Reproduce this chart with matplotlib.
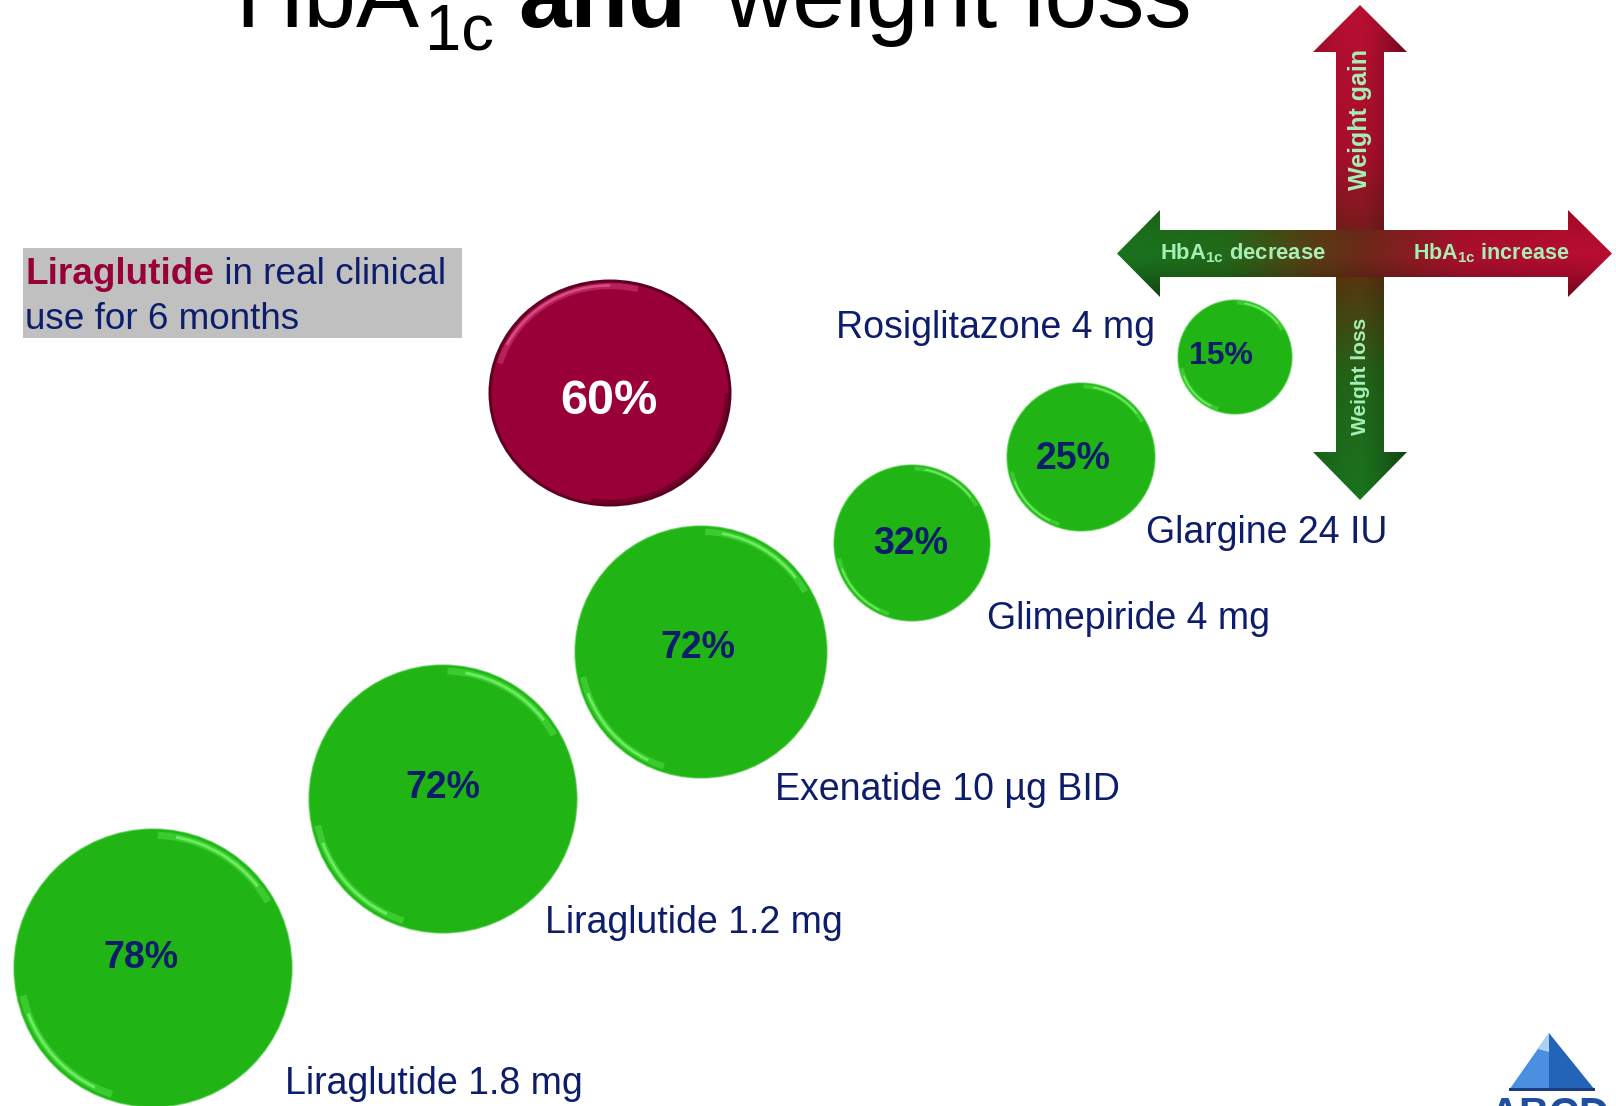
import numpy as np
import matplotlib
matplotlib.use("Agg")
import matplotlib.pyplot as plt
from matplotlib.patches import Circle, Ellipse, Arc, Polygon, Rectangle

# ---------------- data ----------------
bubble_names = ["Liraglutide 1.8 mg", "Liraglutide 1.2 mg", "Exenatide 10 µg BID",
                "Liraglutide real clinical use", "Glimepiride 4 mg", "Glargine 24 IU",
                "Rosiglitazone 4 mg"]
pct_values = [78, 72, 72, 60, 32, 25, 15]
drug_labels = ["Liraglutide 1.8 mg", "Liraglutide 1.2 mg", "Exenatide 10 µg BID",
               "Glimepiride 4 mg", "Glargine 24 IU", "Rosiglitazone 4 mg"]
axis_labels = ["Weight gain", "Weight loss", "decrease", "increase"]
title_parts = ["HbA", "1c", "and", "weight loss"]
box_text = ["Liraglutide", " in real clinical", "use for 6 months"]

# ---------------- layout (pixel-like data units) ----------------
bub_x = [153, 443, 701, 610, 912, 1081, 1235]
bub_y = [968, 799, 652, 393, 543, 457, 357]
bub_rx = [139, 134, 126, 120, 78, 74, 57]
bub_ry = [139, 134, 126, 112, 78, 74, 57]
pct_x = [141, 443, 698, 609, 911, 1073, 1221]
pct_y = [955, 785, 645, 397, 541, 456, 353]
pct_size = [27, 27, 27, 35, 27, 27, 23]
lab_x = [285, 545, 775, 987, 1146, 836]
lab_y = [1094, 933, 800, 629, 543, 338]

W, H = 1616, 1106
FONT = "Liberation Sans"
NAVY = "#0e1d6b"
CRIMSON = "#990038"
GREEN = "#20b515"

fig = plt.figure(figsize=(W / 100, H / 100), dpi=100)
fig.patch.set_facecolor("white")
ax = fig.add_axes([0, 0, 1, 1])
ax.set_xlim(0, W)
ax.set_ylim(H, 0)
ax.axis("off")

px = 0.72  # points per pixel at dpi 100

# ---------------- title ----------------
ax.text(235, 27, title_parts[0], fontsize=68, family=FONT, color="black", va="baseline", ha="left")
ax.text(425, 50, title_parts[1], fontsize=47, family=FONT, color="black", va="baseline", ha="left")
ax.text(518, 27, title_parts[2], fontsize=68, family=FONT, weight="bold", color="black",
        va="baseline", ha="left")
ax.text(724, 27, title_parts[3], fontsize=68, family=FONT, color="black", va="baseline", ha="left")

# ---------------- box text ----------------
ax.add_patch(Rectangle((23, 248), 439, 90, facecolor="#c0c0c0", edgecolor="none", zorder=1))
t1 = ax.text(25, 284, box_text[0], fontsize=26.6, family=FONT, weight="bold", color=CRIMSON,
             va="baseline", ha="left", zorder=2)
fig.canvas.draw()
r = fig.canvas.get_renderer()
bb = t1.get_window_extent(r)
ax.text(bb.x1, 284, box_text[1], fontsize=26.6, family=FONT, color=NAVY,
        va="baseline", ha="left", zorder=2)
ax.text(25, 329, box_text[2], fontsize=26.6, family=FONT, color=NAVY,
        va="baseline", ha="left", zorder=2)

# ---------------- bubbles ----------------
for i, v in enumerate(pct_values):
    cx, cy, rx, ry = bub_x[i], bub_y[i], bub_rx[i], bub_ry[i]
    red = (v == 60)
    base = CRIMSON if red else GREEN
    ax.add_patch(Ellipse((cx, cy), 2 * rx, 2 * ry, facecolor=base, edgecolor="none", zorder=3))
    s = max(rx / 139.0, 0.55)
    if red:
        ax.add_patch(Ellipse((cx, cy), 2 * rx, 2 * ry, facecolor="none", edgecolor="#5e0021",
                             lw=3 * px, zorder=4))
        ax.add_patch(Arc((cx, cy), 2 * rx * 0.955, 2 * ry * 0.955, theta1=195, theta2=285,
                         color="#d23c78", lw=6 * px, alpha=0.55, zorder=4))
        ax.add_patch(Arc((cx, cy), 2 * rx * 0.96, 2 * ry * 0.96, theta1=205, theta2=270,
                         color="#e0588c", lw=2.5 * px, alpha=0.8, zorder=4))
        ax.add_patch(Arc((cx, cy), 2 * rx * 0.975, 2 * ry * 0.975, theta1=0, theta2=100,
                         color="#5a001c", lw=5 * px, alpha=0.6, zorder=4))
    else:
        ax.add_patch(Ellipse((cx, cy), 2 * rx, 2 * ry, facecolor="none", edgecolor="#48c93e",
                             lw=1.5 * px, alpha=0.6, zorder=4))
        for (t1a, t2a) in [(272, 330), (108, 168)]:
            ax.add_patch(Arc((cx, cy), 2 * rx * 0.955, 2 * ry * 0.955, theta1=t1a, theta2=t2a,
                             color="#5ee852", lw=7 * s * px, alpha=0.45, zorder=4))
            ax.add_patch(Arc((cx, cy), 2 * rx * 0.955, 2 * ry * 0.955, theta1=t1a + 8,
                             theta2=t2a - 8, color="#78f56c", lw=3 * s * px, alpha=0.8, zorder=4))
    ax.text(pct_x[i], pct_y[i] + 0.716 * pct_size[i] / px / 2, f"{v}%", fontsize=pct_size[i],
            family=FONT, weight="bold", color="white" if red else NAVY,
            ha="center", va="baseline", zorder=5)

# ---------------- drug labels ----------------
for i, lab in enumerate(drug_labels):
    ax.text(lab_x[i], lab_y[i], lab, fontsize=27, family=FONT, color=NAVY,
            ha="left", va="baseline", zorder=5)

# ---------------- cross arrows ----------------
def ramp(stops, n):
    t = np.linspace(0, 1, n)
    pos = [s[0] for s in stops]
    cols = np.array([s[1] for s in stops], dtype=float) / 255.0
    return np.stack([np.interp(t, pos, cols[:, k]) for k in range(3)], axis=-1)

def shaded_arrow(verts, x0, x1, y0, y1, stops, vertical):
    poly = Polygon(verts, closed=True, facecolor="none", edgecolor="none", zorder=6)
    ax.add_patch(poly)
    nx, ny = int(x1 - x0), int(y1 - y0)
    if vertical:
        col = ramp(stops, ny)[:, None, :]
        u = np.linspace(-1, 1, nx)[None, :, None]
    else:
        col = ramp(stops, nx)[None, :, :]
        u = np.linspace(-1, 1, ny)[:, None, None]
    shade = 1.0 - 0.4 * np.clip(u, 0, 1) ** 1.5 - 0.15 * np.clip(-u, 0, 1) ** 2
    img = col * shade
    im = ax.imshow(np.clip(img, 0, 1), extent=(x0, x1, y1, y0), origin="upper",
                   interpolation="bilinear", zorder=6, aspect="auto")
    im.set_clip_path(poly)

vx, vhw, vsw = 1360, 47, 24
vert = [(vx, 5), (vx + vhw, 52), (vx + vsw, 52), (vx + vsw, 452), (vx + vhw, 452), (vx, 500),
        (vx - vhw, 452), (vx - vsw, 452), (vx - vsw, 52), (vx - vhw, 52)]
shaded_arrow(vert, vx - vhw, vx + vhw, 5, 500,
             [(0, (185, 15, 50)), (0.3, (170, 15, 45)), (0.48, (110, 30, 25)),
              (0.56, (85, 55, 15)), (0.75, (35, 100, 25)), (1, (25, 115, 30))], True)

hy, hhw, hsw = 253.5, 43.5, 23.5
horz = [(1117, hy), (1160, hy - hhw), (1160, hy - hsw), (1568, hy - hsw), (1568, hy - hhw),
        (1612, hy), (1568, hy + hhw), (1568, hy + hsw), (1160, hy + hsw), (1160, hy + hhw)]
shaded_arrow(horz, 1117, 1612, hy - hhw, hy + hhw,
             [(0, (25, 115, 30)), (0.22, (35, 105, 25)), (0.4, (90, 60, 20)),
              (0.5, (110, 40, 25)), (0.7, (170, 15, 45)), (1, (185, 12, 48))], False)

MINT = "#a6efb6"
plt.rcParams["mathtext.fontset"] = "custom"
plt.rcParams["mathtext.bf"] = "Liberation Sans:bold"
plt.rcParams["mathtext.rm"] = "Liberation Sans"
ax.text(1360, 120, axis_labels[0], fontsize=18, family=FONT, weight="bold", color=MINT,
        rotation=90, ha="center", va="center", zorder=7)
ax.text(1360, 376, axis_labels[1], fontsize=15, family=FONT, weight="bold", color=MINT,
        rotation=90, ha="center", va="center", zorder=7)
ax.text(1243, 259, r"HbA$_{\mathbf{1c}}$ " + axis_labels[2], fontsize=15.8, family=FONT,
        weight="bold", color=MINT, ha="center", va="baseline", zorder=7)
ax.text(1491, 259, r"HbA$_{\mathbf{1c}}$ " + axis_labels[3], fontsize=15.5, family=FONT,
        weight="bold", color=MINT, ha="center", va="baseline", zorder=7)

# ---------------- logo (partial) ----------------
apex, bl, br = (1549, 1033), (1509, 1090), (1595, 1090)
ax.add_patch(Polygon([apex, bl, (1549, 1090)], closed=True, facecolor="#4a8fe0",
                     edgecolor="none", zorder=3))
ax.add_patch(Polygon([apex, (1549, 1090), br], closed=True, facecolor="#2364b8",
                     edgecolor="none", zorder=3))
ax.add_patch(Polygon([apex, (1538, 1049), (1549, 1052)], closed=True, facecolor="#a9d2f5",
                     edgecolor="none", zorder=3))
ax.add_patch(Rectangle((1509, 1088), 86, 3, facecolor="#1a3c80", edgecolor="none", zorder=3))
ax.text(1490, 1096, "ABCD", fontsize=30, family=FONT, weight="bold", color="#1f4fa0",
        ha="left", va="top", zorder=3)

fig.savefig("out.png", dpi=100, facecolor="white")
